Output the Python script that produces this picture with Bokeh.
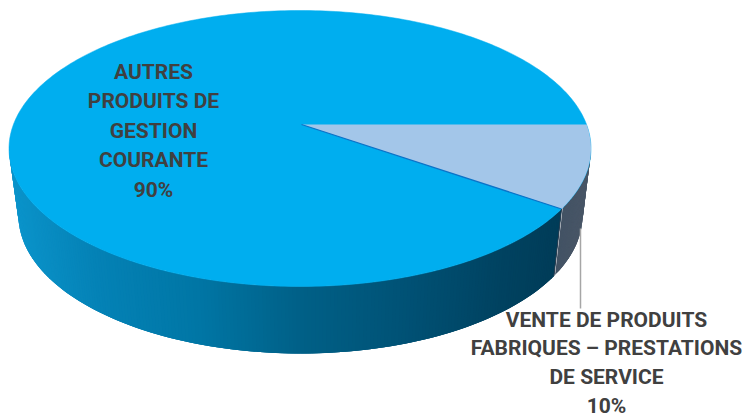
import numpy as np
from bokeh.plotting import figure
from bokeh.embed import file_html
from bokeh.resources import INLINE
from bokeh.core.properties import value

categories = ["AUTRES PRODUITS DE GESTION COURANTE", "VENTE DE PRODUITS FABRIQUES – PRESTATIONS DE SERVICE"]
shares = [90, 10]
labels_main = ["AUTRES", "PRODUITS DE", "GESTION", "COURANTE", "90%"]
labels_small = ["VENTE DE PRODUITS", "FABRIQUES – PRESTATIONS", "DE SERVICE", "10%"]

W, H = 745, 417
p = figure(width=W, height=H, x_range=(0, W), y_range=(H, 0),
           output_backend="svg", toolbar_location=None, min_border=0,
           outline_line_color=None, background_fill_color="white", border_fill_color="white")
p.axis.visible = False
p.grid.visible = False

# pie projection
cx, cy, rx, ry = 299.5, 148.0, 291.0, 138.0
bx, by, brx, bry = 300.0, 215.0, 282.0, 138.0
ax, ay = 301.0, 124.0
start = np.radians(10.0)                     # top edge of the small slice
end = start - 2 * np.pi * shares[1] / sum(shares)

def top(t):
    return cx + rx * np.cos(t), cy - ry * np.sin(t)

def bot(t):
    return bx + brx * np.cos(t), by - bry * np.sin(t)

def lerp_color(x, stops):
    xs = [s[0] for s in stops]
    r = [np.interp(x, xs, [s[1][i] for s in stops]) for i in range(3)]
    return "#%02x%02x%02x" % tuple(int(round(v)) for v in r)

blue_stops = [(8, (12, 150, 205)), (100, (4, 130, 182)), (200, (0, 118, 165)),
              (300, (0, 96, 135)), (400, (0, 82, 118)), (500, (0, 66, 96)), (555, (0, 60, 88))]
grey_stops = [(553, (66, 82, 100)), (592, (76, 88, 104))]

# side wall, overlapping thin quads painted left to right so no seams show
ts = np.radians(np.linspace(180, 360, 241))
end_wrapped = end + 2 * np.pi
xs, ys, cs = [], [], []
for i in range(len(ts) - 1):
    a = ts[i]
    b = ts[min(i + 3, len(ts) - 1)]
    if a < end_wrapped < b:
        b = end_wrapped
    tx0, ty0 = top(a); tx1, ty1 = top(b)
    bx0, by0 = bot(a); bx1, by1 = bot(b)
    xs.append([tx0, tx1, bx1, bx0]); ys.append([ty0, ty1, by1, by0])
    mx = bot((ts[i] + ts[i + 1]) / 2)[0]
    cs.append(lerp_color(mx, grey_stops) if ts[i] >= end_wrapped else lerp_color(mx, blue_stops))
p.patches(xs, ys, fill_color=cs, line_color=None)

# top face
full = np.linspace(0, 2 * np.pi, 361)
tx, ty = top(full)
p.patch(tx, ty, fill_color="#00aeef", line_color="#00aeef", line_width=0.5)
arc = np.linspace(start, end, 60)
ex, ey = top(arc)
p.patch(np.r_[ax, ex], np.r_[ay, ey], fill_color="#a3c6e9", line_color=None)
sx, sy = top(end)
p.line([ax, sx], [ay, sy], line_color="#0b73c8", line_width=1.3)
bex, bey = bot(end)
p.line([sx, bex], [sy, bey], line_color="#2a3d50", line_width=1)

# leader
p.line([580, 580], [228, 308], line_color="#a6a6a6", line_width=1.5)

font = "Roboto"
y_main = [71 + 29.5 * i for i in range(len(labels_main))]
p.text([153] * len(labels_main), y_main, text=labels_main, text_align="center", text_baseline="middle",
       text_font=value(font), text_font_style="bold", text_font_size="21px", text_color="#404040")
y_small = [319 + 28.7 * i for i in range(len(labels_small))]
p.text([606] * len(labels_small), y_small, text=labels_small, text_align="center", text_baseline="middle",
       text_font=value(font), text_font_style="bold", text_font_size="21px", text_color="#404040")

open("out.html", "w").write(file_html(p, INLINE))
